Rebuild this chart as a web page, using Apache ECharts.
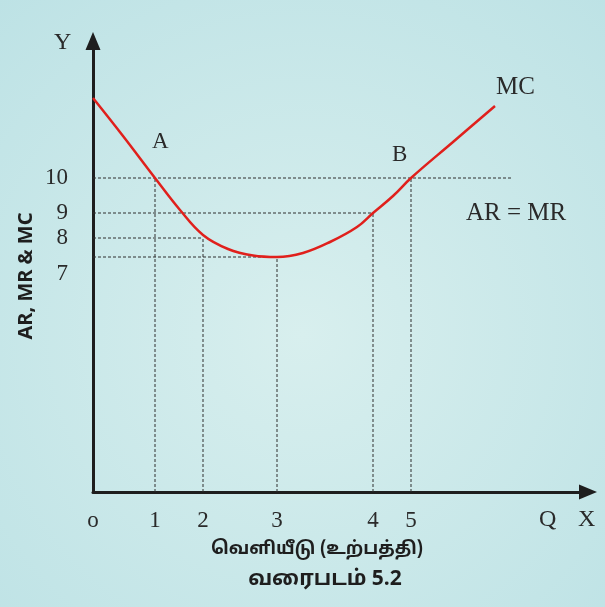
<!DOCTYPE html>
<html>
<head>
<meta charset="utf-8">
<script src="https://cdn.jsdelivr.net/npm/echarts@6/dist/echarts.min.js"></script>
<style>
html,body{margin:0;padding:0;}
#c{width:605px;height:607px;}
</style>
</head>
<body>
<div id="c"></div>
<script>
// Schematic units (x: quantity position, y: cost position)
const mcCurve = [
  [0, 39.4], [3.0, 35.6], [6.2, 31.4], [8.7, 28.2], [11.0, 25.7], [13.5, 24.3],
  [16.0, 23.65], [18.4, 23.5], [21.0, 23.9], [23.7, 25.0], [26.4, 26.5],
  [28.0, 27.9], [30.0, 29.6], [31.8, 31.4], [36.0, 35.0], [40.2, 38.6]
];
const qPositions = [6.2, 11.0, 18.4, 28.0, 31.8];
const qLabels = ['1', '2', '3', '4', '5'];
const costLevels = [31.4, 27.9, 25.4, 23.5];
const costLabels = ['10', '9', '8', '7'];
// horizontal guide: [level, x end]; vertical guide: [x, top]
const hGuides = [[31.4, 41.9], [27.9, 28.0], [25.4, 11.0], [23.5, 18.4]];
const vGuides = [[6.2, 31.4], [11.0, 25.4], [18.4, 23.5], [28.0, 27.9], [31.8, 31.4]];

const chart = echarts.init(document.getElementById('c'), null, {renderer: 'canvas'});

const guideSeries = [];
hGuides.forEach(g => guideSeries.push({
  type: 'line', data: [[0, g[0]], [g[1], g[0]]], symbol: 'none', silent: true,
  lineStyle: {color: '#2e2e2e', width: 1, type: [3, 2]}, z: 1
}));
vGuides.forEach(g => guideSeries.push({
  type: 'line', data: [[g[0], 0], [g[0], g[1]]], symbol: 'none', silent: true,
  lineStyle: {color: '#2e2e2e', width: 1, type: [3, 2]}, z: 1
}));

const serif = 'Liberation Serif';
const tamil = '"Noto Sans Tamil", "Noto Sans Tamil UI", "Lohit Tamil", "Noto Sans", sans-serif';
chart.setOption({
  animation: false,
  backgroundColor: {
    type: 'radial', x: 0.5, y: 0.55, r: 0.75,
    colorStops: [{offset: 0, color: '#d8efee'}, {offset: 1, color: '#bde2e5'}]
  },
  grid: {left: 93, right: 17, top: 41, bottom: 115},
  xAxis: {
    type: 'value', min: 0, max: 49.5,
    splitLine: {show: false},
    axisLine: {show: true, symbol: ['none', 'triangle'], symbolSize: [15, 18],
      lineStyle: {color: '#1e1e1e', width: 3}},
    axisTick: {show: false},
    axisLabel: {
      customValues: [0].concat(qPositions),
      formatter: v => v === 0 ? 'o' : qLabels[qPositions.indexOf(v)],
      fontFamily: serif, fontSize: 23, color: '#2a2a2a', margin: 17
    }
  },
  yAxis: {
    type: 'value', min: 0, max: 45.1,
    splitLine: {show: false},
    axisLine: {show: true, symbol: ['none', 'triangle'], symbolSize: [15, 18],
      lineStyle: {color: '#1e1e1e', width: 3}},
    axisTick: {show: false},
    axisLabel: {
      customValues: costLevels,
      formatter: v => {
        const t = costLabels[costLevels.indexOf(v)];
        return t === '7' ? '{low|' + t + '}' : t;
      },
      rich: {low: {fontFamily: serif, fontSize: 23, color: '#2a2a2a', padding: [34, 0, 0, 0]}},
      fontFamily: serif, fontSize: 23, color: '#2a2a2a', margin: 25
    }
  },
  graphic: [
    {type: 'text', left: 54, top: 31, style: {text: 'Y', font: '24px "Liberation Serif"', fill: '#2a2a2a'}},
    {type: 'text', left: 152, top: 130, style: {text: 'A', font: '23px "Liberation Serif"', fill: '#2a2a2a'}},
    {type: 'text', left: 392, top: 143, style: {text: 'B', font: '23px "Liberation Serif"', fill: '#2a2a2a'}},
    {type: 'text', left: 496, top: 75, style: {text: 'MC', font: '25px "Liberation Serif"', fill: '#2a2a2a'}},
    {type: 'text', left: 466, top: 201, style: {text: 'AR = MR', font: '25px "Liberation Serif"', fill: '#2a2a2a'}},
    {type: 'text', left: 539, top: 508, style: {text: 'Q', font: '24px "Liberation Serif"', fill: '#2a2a2a'}},
    {type: 'text', left: 578, top: 508, style: {text: 'X', font: '24px "Liberation Serif"', fill: '#2a2a2a'}},
    {type: 'text', x: 26, y: 276, rotation: Math.PI / 2,
      style: {text: 'AR, MR & MC', font: 'bold 20px "Noto Sans"', fill: '#1e1e1e', align: 'center', verticalAlign: 'middle'}},
    {type: 'text', x: 317, y: 550,
      style: {text: 'வெளியீடு (உற்பத்தி)', font: 'bold 18px ' + tamil, fill: '#1e1e1e', align: 'center', verticalAlign: 'middle'}},
    {type: 'text', x: 325, y: 581,
      style: {text: 'வரைபடம் 5.2', font: 'bold 21px ' + tamil, fill: '#1e1e1e', align: 'center', verticalAlign: 'middle'}}
  ],
  series: guideSeries.concat([{
    type: 'line', data: mcCurve, smooth: 0.4, symbol: 'none', silent: true,
    lineStyle: {color: '#e0201c', width: 2.5}, z: 3
  }])
});
</script>
</body>
</html>
